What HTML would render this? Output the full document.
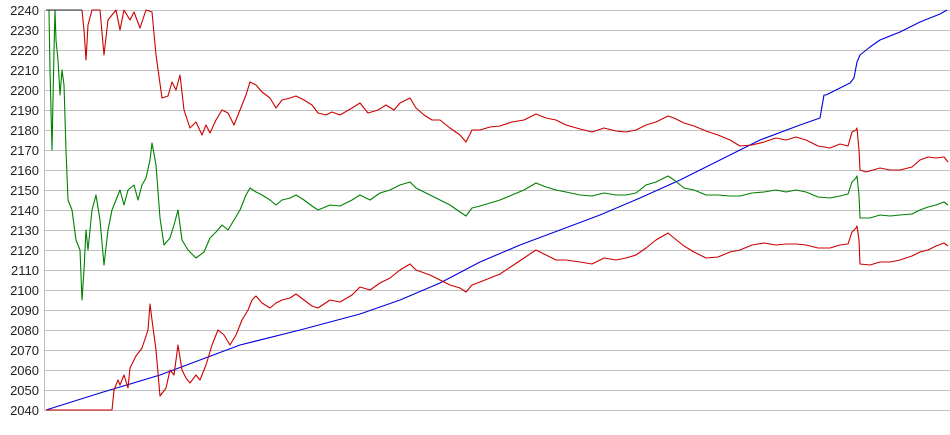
<!DOCTYPE html>
<html><head><meta charset="utf-8"><style>
body{margin:0;background:#fff;}
svg{display:block;font-family:"Liberation Sans",sans-serif;}
</style></head><body>
<svg width="950" height="435" viewBox="0 0 950 435" xmlns="http://www.w3.org/2000/svg">
<g stroke="#c0c0c0" stroke-width="1">
<line x1="44" y1="10.5" x2="950" y2="10.5"/><line x1="44" y1="30.5" x2="950" y2="30.5"/><line x1="44" y1="50.5" x2="950" y2="50.5"/><line x1="44" y1="70.5" x2="950" y2="70.5"/><line x1="44" y1="90.5" x2="950" y2="90.5"/><line x1="44" y1="110.5" x2="950" y2="110.5"/><line x1="44" y1="130.5" x2="950" y2="130.5"/><line x1="44" y1="150.5" x2="950" y2="150.5"/><line x1="44" y1="170.5" x2="950" y2="170.5"/><line x1="44" y1="190.5" x2="950" y2="190.5"/><line x1="44" y1="210.5" x2="950" y2="210.5"/><line x1="44" y1="230.5" x2="950" y2="230.5"/><line x1="44" y1="250.5" x2="950" y2="250.5"/><line x1="44" y1="270.5" x2="950" y2="270.5"/><line x1="44" y1="290.5" x2="950" y2="290.5"/><line x1="44" y1="310.5" x2="950" y2="310.5"/><line x1="44" y1="330.5" x2="950" y2="330.5"/><line x1="44" y1="350.5" x2="950" y2="350.5"/><line x1="44" y1="370.5" x2="950" y2="370.5"/><line x1="44" y1="390.5" x2="950" y2="390.5"/><line x1="44" y1="410.5" x2="950" y2="410.5"/>
<line x1="44.5" y1="10" x2="44.5" y2="411"/>
</g>
<g font-size="13" fill="#222" text-anchor="end">
<text x="39" y="15">2240</text><text x="39" y="35">2230</text><text x="39" y="55">2220</text><text x="39" y="75">2210</text><text x="39" y="95">2200</text><text x="39" y="115">2190</text><text x="39" y="135">2180</text><text x="39" y="155">2170</text><text x="39" y="175">2160</text><text x="39" y="195">2150</text><text x="39" y="215">2140</text><text x="39" y="235">2130</text><text x="39" y="255">2120</text><text x="39" y="275">2110</text><text x="39" y="295">2100</text><text x="39" y="315">2090</text><text x="39" y="335">2080</text><text x="39" y="355">2070</text><text x="39" y="375">2060</text><text x="39" y="395">2050</text><text x="39" y="415">2040</text>
</g>
<g fill="none" stroke-width="1.1" stroke-linejoin="round">
<polyline stroke="#0000dd" points="46,410 100,393 160,375 200,360 240,345 300,330 360,314 400,300 440,283 480,262 520,245 560,230 600,215 640,198 680,180 720,160 760,140 800,125 820,118 824,95 826,95 840,88 850,83 854,78 857,62 860,55 870,47 880,40 900,32 920,22 940,14 947,10"/>
<polyline stroke="#cc0000" points="82,10 84,30 86,60 88,25 92,10 100,10 104,55 108,20 116,10 120,30 124,10 130,20 134,12 140,28 146,10 152,12 156,55 162,98 168,96 172,82 176,90 180,75 184,110 190,128 196,122 202,135 206,125 210,133 216,120 222,110 228,113 234,125 240,110 246,95 250,82 256,85 262,92 270,98 276,108 282,100 290,98 296,96 304,100 312,105 318,113 326,115 332,112 340,115 352,108 360,103 368,113 378,110 386,105 394,110 400,103 410,98 416,108 424,115 432,120 440,120 450,128 460,135 466,142 472,130 480,130 490,127 500,126 512,122 524,120 536,114 546,118 556,120 566,125 580,129 592,132 604,128 616,131 626,132 636,130 646,125 656,122 668,116 674,118 684,123 694,126 706,131 718,135 730,140 740,146 752,145 764,142 776,138 786,140 796,137 806,140 818,146 830,148 840,144 848,146 852,132 856,130 857,128 859,150 860,170 866,172 880,168 890,170 900,170 912,167 920,160 928,157 936,158 944,157 948,162"/>
<polyline stroke="#008000" points="49,10 50,70 52,150 54,50 55,10 56,40 58,60 60,95 62,70 64,85 66,150 68,200 72,210 76,240 80,250 82,300 84,270 86,230 88,250 92,210 96,195 100,220 104,265 108,230 112,210 116,200 120,190 124,205 128,190 134,185 138,200 142,185 146,178 150,160 152,143 156,165 160,218 164,245 170,238 174,225 178,210 182,240 188,250 196,258 204,252 210,238 216,232 222,225 228,230 234,220 240,210 246,195 250,188 256,192 262,195 270,200 276,205 282,200 290,198 296,195 304,200 312,206 318,210 330,205 340,206 352,200 360,195 370,200 380,193 390,190 400,185 410,182 416,188 430,195 440,200 450,205 460,212 466,216 472,208 480,206 490,203 500,200 512,195 524,190 536,183 546,187 556,190 566,192 580,195 592,196 604,193 616,195 626,195 636,193 646,185 656,182 668,176 674,180 684,188 694,190 706,195 718,195 730,196 740,196 752,193 764,192 776,190 786,192 796,190 806,192 818,197 830,198 840,196 848,194 852,182 856,178 857,176 859,195 860,218 870,218 880,215 890,216 900,215 912,214 920,210 928,207 936,205 944,202 948,205"/>
<polyline stroke="#cc0000" points="46,410 112,410 114,390 118,380 120,385 124,375 128,388 130,368 136,356 142,348 148,330 150,304 152,320 156,350 160,396 166,388 170,370 174,375 178,345 182,370 186,378 190,383 196,375 200,380 206,365 212,345 218,330 224,335 230,345 236,335 242,320 248,310 252,300 256,296 262,303 270,308 276,303 282,300 290,298 296,294 304,300 312,306 318,308 330,300 340,302 352,295 360,287 370,290 380,283 390,278 400,270 410,264 416,270 430,275 440,280 450,285 460,288 466,292 472,285 480,282 490,278 500,274 512,266 524,258 536,250 546,255 556,260 566,260 580,262 592,264 604,258 616,260 626,258 636,255 646,248 656,240 668,233 674,238 684,246 694,252 706,258 718,257 730,252 740,250 752,245 764,243 776,245 786,244 796,244 806,245 818,248 830,248 840,245 848,244 852,232 856,228 857,226 859,240 860,264 870,265 880,262 890,262 900,260 912,256 920,252 928,250 936,246 944,243 948,246"/>
<polyline stroke="#333" points="46,10 82,10"/>
</g>
</svg>
</body></html>
